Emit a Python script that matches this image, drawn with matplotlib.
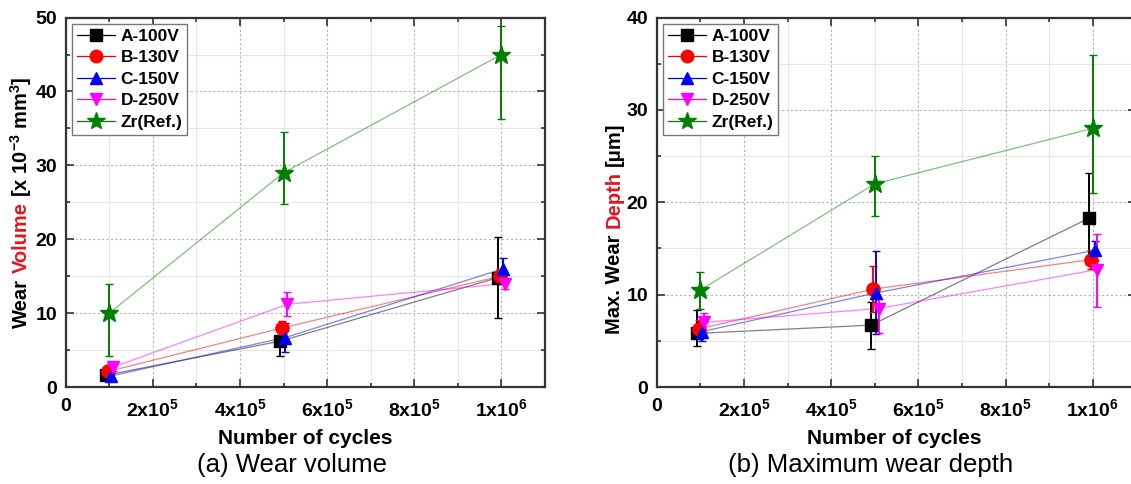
import numpy as np
import matplotlib
matplotlib.use("Agg")
import matplotlib.pyplot as plt
from matplotlib.lines import Line2D
from matplotlib.ticker import MultipleLocator, FixedLocator

plt.rcParams['font.family'] = ['Liberation Sans', 'DejaVu Sans']
plt.rcParams['font.weight'] = 'bold'
plt.rcParams['mathtext.default'] = 'regular'

cycles = [1e5, 5e5, 1e6]
series = ["A-100V", "B-130V", "C-150V", "D-250V", "Zr(Ref.)"]
x_ticklabels = ["0", "2x10$^5$", "4x10$^5$", "6x10$^5$", "8x10$^5$", "1x10$^6$"]

# wear volume [x 10^-3 mm^3]
vol = {
    "A-100V": [1.6, 6.2, 14.8],
    "B-130V": [2.1, 8.0, 15.0],
    "C-150V": [1.5, 6.7, 16.0],
    "D-250V": [2.7, 11.2, 14.0],
    "Zr(Ref.)": [10.0, 29.0, 45.0],
}
vol_err_lo = {
    "A-100V": [0.5, 2.0, 5.4],
    "B-130V": [0.4, 1.0, 1.0],
    "C-150V": [0.4, 1.9, 1.5],
    "D-250V": [0.6, 1.6, 0.8],
    "Zr(Ref.)": [5.8, 4.2, 8.7],
}
vol_err_hi = {
    "A-100V": [0.5, 2.0, 5.5],
    "B-130V": [0.4, 1.0, 1.0],
    "C-150V": [0.4, 1.9, 1.5],
    "D-250V": [0.6, 1.6, 0.8],
    "Zr(Ref.)": [4.0, 5.5, 3.8],
}

# max wear depth [um]
dep = {
    "A-100V": [5.8, 6.7, 18.3],
    "B-130V": [6.3, 10.6, 13.8],
    "C-150V": [6.0, 10.2, 14.8],
    "D-250V": [7.0, 8.5, 12.7],
    "Zr(Ref.)": [10.5, 22.0, 28.0],
}
dep_err_lo = {
    "A-100V": [1.4, 2.6, 5.0],
    "B-130V": [1.0, 2.5, 1.0],
    "C-150V": [1.0, 4.5, 1.0],
    "D-250V": [1.0, 2.7, 4.0],
    "Zr(Ref.)": [2.0, 3.5, 7.0],
}
dep_err_hi = {
    "A-100V": [2.5, 2.5, 4.9],
    "B-130V": [1.0, 2.5, 1.0],
    "C-150V": [1.0, 4.5, 1.0],
    "D-250V": [1.0, 1.0, 3.9],
    "Zr(Ref.)": [2.0, 3.0, 8.0],
}

colors = {"A-100V": "black", "B-130V": "#ff0000", "C-150V": "#0000ff",
          "D-250V": "#ff00ff", "Zr(Ref.)": "#008000"}
markers = {"A-100V": "s", "B-130V": "o", "C-150V": "^", "D-250V": "v", "Zr(Ref.)": "*"}
msizes = {"A-100V": 8.5, "B-130V": 9.5, "C-150V": 9, "D-250V": 9, "Zr(Ref.)": 14}
shift = {"A-100V": -8e3, "B-130V": -3e3, "C-150V": 4e3, "D-250V": 9e3, "Zr(Ref.)": 0}

fig = plt.figure(figsize=(11.31, 4.84), dpi=100)
W, H = 1131, 484
axL = fig.add_axes([65.7 / W, 1 - 387 / H, 479.3 / W, 369.4 / H])
axR = fig.add_axes([656.7 / W, 1 - 387 / H, 479.7 / W, 369.4 / H])


def draw(ax, data, lo, hi, ymax):
    for s in series:
        xs = np.array(cycles) + shift[s]
        ax.plot(xs, data[s], color=colors[s], lw=0.9, alpha=0.5, zorder=2)
        ax.errorbar(xs, data[s], yerr=[lo[s], hi[s]], fmt=markers[s], ms=msizes[s],
                    color=colors[s], mec=colors[s], ecolor=colors[s], elinewidth=1.4,
                    capsize=3, capthick=1, zorder=3)
    ax.set_xlim(0, 1.1e6)
    ax.set_ylim(0, ymax)
    ax.xaxis.set_major_locator(FixedLocator([0, 2e5, 4e5, 6e5, 8e5, 1e6]))
    ax.set_xticklabels(x_ticklabels)
    ax.xaxis.set_minor_locator(MultipleLocator(1e5))
    ax.yaxis.set_major_locator(MultipleLocator(10))
    ax.yaxis.set_minor_locator(MultipleLocator(5))
    ax.grid(which='major', ls=(0, (2, 2)), color='#b4b4b4', lw=0.8)
    ax.grid(which='minor', ls='-', color='#e6e6e6', lw=0.8)
    ax.set_axisbelow(True)
    ax.tick_params(which='both', direction='in', top=True, right=True,
                   labelsize=14, width=1.2, color='#333333', pad=6)
    ax.tick_params(axis='x', which='major', pad=8)
    ax.tick_params(which='major', length=6)
    ax.tick_params(which='minor', length=3)
    for sp in ax.spines.values():
        sp.set_linewidth(1.6)
        sp.set_color('#333333')
    handles = [Line2D([], [], color=colors[s], marker=markers[s], ms=msizes[s] * 0.95,
                      lw=0.9, mec=colors[s]) for s in series]
    leg = ax.legend(handles, series, loc='upper left', fontsize=12.5, frameon=True,
                    fancybox=False, edgecolor='#777777', framealpha=1,
                    handlelength=2.2, handletextpad=0.3, labelspacing=0.36,
                    borderpad=0.3, borderaxespad=0.35)
    leg.get_frame().set_linewidth(1.0)


draw(axL, vol, vol_err_lo, vol_err_hi, 50)
draw(axR, dep, dep_err_lo, dep_err_hi, 40)


def color_ylabel(x_px, yc_px, parts, size=14.5):
    first = fig.text(x_px / W, 0.5, parts[0][0], color=parts[0][1], rotation=90,
                     ha='center', va='bottom', fontsize=size, fontweight='bold')
    texts = [first]
    prev = first
    for s, c in parts[1:]:
        prev = fig.add_artist(matplotlib.text.Annotation(
            s, xy=(0.5, 1), xycoords=prev, xytext=(0, 4), textcoords='offset points',
            rotation=90, ha='center', va='bottom', color=c, fontsize=size,
            fontweight='bold'))
        texts.append(prev)
    fig.canvas.draw()
    r = fig.canvas.get_renderer()
    bot = texts[0].get_window_extent(r).y0
    top = texts[-1].get_window_extent(r).y1
    total = top - bot
    first.set_y(((H - yc_px) - total / 2) / H)


color_ylabel(21, 202, [("Wear", "black"), ("Volume", "#e8141e"),
                       ("[x 10$^{-3}$ mm$^{3}$]", "black")])
color_ylabel(614, 228, [("Max. Wear", "black"), ("Depth", "#e8141e"),
                        ("[\u03bcm]", "black")])

fig.text((65.7 + 545) / 2 / W, 1 - 439 / H, "Number of cycles", ha='center', va='center',
         fontsize=15, fontweight='bold')
fig.text((656.7 + 1131) / 2 / W, 1 - 439 / H, "Number of cycles", ha='center', va='center',
         fontsize=15, fontweight='bold')
fig.text(292 / W, 1 - 465 / H, "(a) Wear volume", ha='center', va='center',
         fontsize=18.5, fontweight='normal')
fig.text(871 / W, 1 - 465 / H, "(b) Maximum wear depth", ha='center', va='center',
         fontsize=18.5, fontweight='normal')

fig.savefig("out.png", dpi=100)
